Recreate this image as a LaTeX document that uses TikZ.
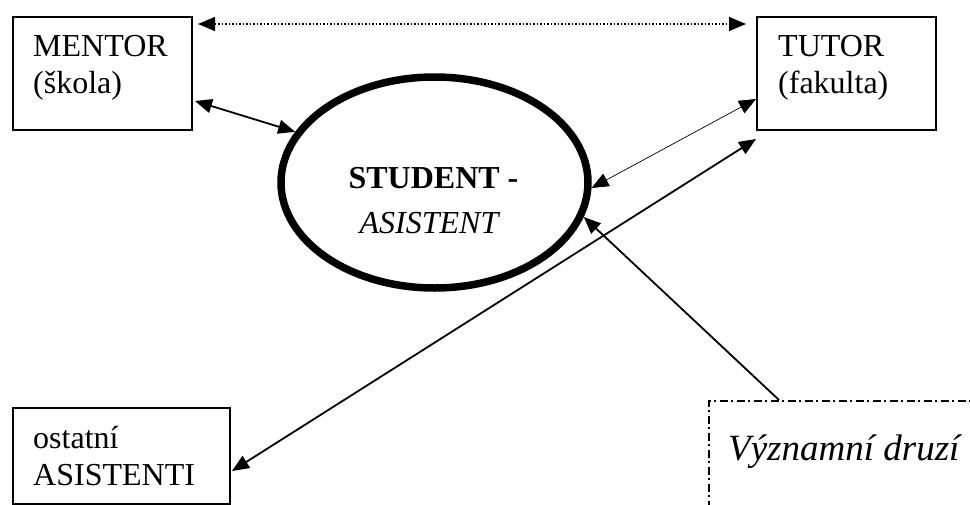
\documentclass[tikz,border=0pt]{standalone}
\usepackage{fontspec}
\setmainfont{Liberation Serif}
\usetikzlibrary{arrows.meta,shapes.geometric}
\begin{document}
\begin{tikzpicture}[x=1pt,y=-1pt,
  box/.style={draw,line width=2pt,rectangle,inner sep=0pt,anchor=north west},
  txt/.style={inner sep=0pt,font=\fontsize{32}{37}\selectfont},
  arr/.style={line width=1.8pt,{Triangle[length=17pt,width=14pt]}-{Triangle[length=17pt,width=14pt]}},
  thinarr/.style={line width=0.7pt,{Triangle[length=17pt,width=14pt]}-{Triangle[length=17pt,width=14pt]}}]
\clip (0,0) rectangle (970,504);
% boxes
\node[box,minimum width=179pt,minimum height=113pt] (mentor) at (12,16) {};
\node[box,minimum width=179pt,minimum height=113pt] (tutor) at (756,16) {};
\node[box,minimum width=217pt,minimum height=96pt] (ost) at (12,407) {};
\node[draw,line width=1.8pt,dash pattern=on 8pt off 3.5pt on 2pt off 3.5pt,rectangle,inner sep=0pt,anchor=north west,minimum width=300pt,minimum height=150pt] (vyz) at (708,400) {};
% ellipse
\node[ellipse,draw,line width=7.5pt,minimum width=307pt,minimum height=211pt,inner sep=0pt] (stud) at (434.5,182.5) {};
% texts
\node[txt,anchor=base west] (t1) at (33,56) {MENTOR};
\node[txt,anchor=base west] (t2) at (33,93) {(škola)};
\node[txt,anchor=base west] (t3) at (778,56) {TUTOR};
\node[txt,anchor=base west] (t4) at (778,93) {(fakulta)};
\node[txt,anchor=base west] (t5) at (33,448) {ostatní};
\node[txt,anchor=base west] (t6) at (33,485) {ASISTENTI};
\node[txt,anchor=base,font=\fontsize{32}{37}\selectfont\bfseries] (t7) at (433.5,188) {STUDENT -};
\node[txt,anchor=base,font=\fontsize{32}{37}\selectfont\itshape] (t8) at (429,233) {ASISTENT};
\node[inner sep=0pt,anchor=base west,font=\fontsize{37}{42}\selectfont\itshape] (t9) at (728,460) {Významní druzí};
% connectors
\draw[line width=1.5pt,dotted,{Triangle[length=17pt,width=14pt]}-{Triangle[length=17pt,width=14pt]}]
  ([xshift=5pt,yshift=-8pt]mentor.north east) -- ([xshift=-10pt,yshift=-8pt]tutor.north west);
\draw[arr] ([xshift=2pt,yshift=30pt]mentor.south east) -- (stud.160);
\draw[thinarr] ([yshift=32pt]tutor.south west) -- (stud.-2);
\draw[arr] ([xshift=1pt,yshift=-15pt]ost.east) -- ([yshift=-8pt]tutor.south west);
\draw[line width=1.8pt,-{Triangle[length=17pt,width=14pt]}] ([xshift=71pt]vyz.north west) -- (stud.-13);
\end{tikzpicture}
\end{document}
